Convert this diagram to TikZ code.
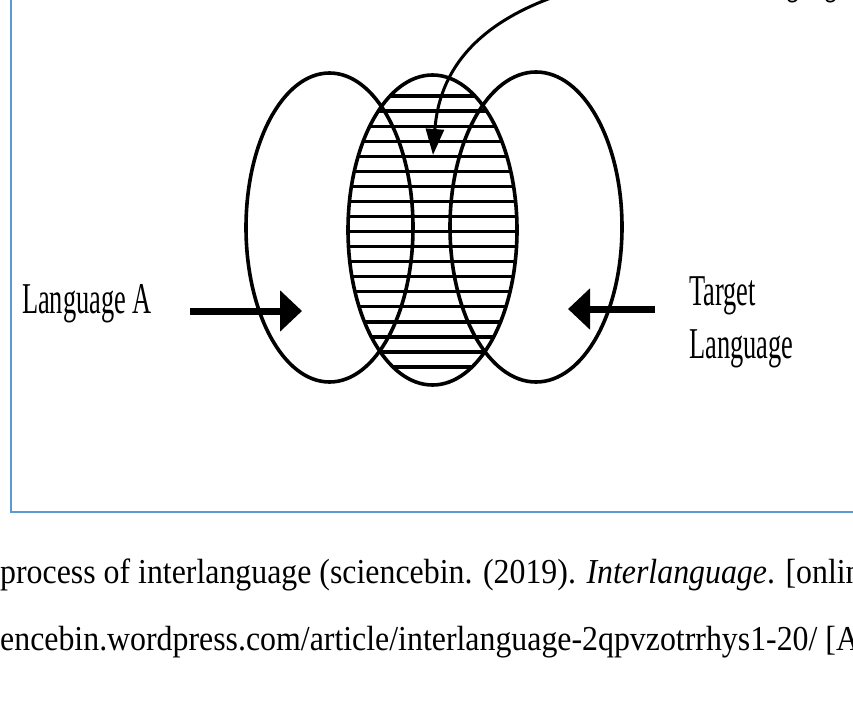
\documentclass[tikz,border=0pt]{standalone}
\usepackage{fontspec}
\setmainfont{Liberation Serif}
\usepackage{xcolor}
\usepackage{tikz}
\usetikzlibrary{arrows.meta}

\definecolor{frameblue}{RGB}{91,155,213}
\newcommand{\lbltext}[1]{\scalebox{0.6}[1]{#1}}
\newcommand{\captext}[1]{\scalebox{0.91}[1]{#1}}

\begin{document}
\begin{tikzpicture}[x=1pt, y=-1pt,
      ring/.style={line width=3.6pt},
      hatch/.style={line width=3.2pt},
      pointer/.style={line width=7pt, -{Triangle[length=22pt, width=40pt]}},
      thinpointer/.style={line width=3pt, -{Triangle[length=26pt, width=18pt]}},
      lbl/.style={font=\fontsize{44}{53}\selectfont, inner sep=0pt},
      capline/.style={font=\fontsize{35}{40}\selectfont, inner sep=0pt, anchor=base west}]
    \useasboundingbox (0,0) rectangle (853,706);
    \clip (0,0) rectangle (853,706);
    \draw[frameblue, line width=2.6pt] (11,-5) -- (11,512) -- (870,512);
    % hatched middle set
    \begin{scope}
      \clip (432.5,230) ellipse [x radius=84.5, y radius=155];
      \foreach \y in {96,111.06,...,368}
        \draw[hatch] (340,\y) -- (525,\y);
    \end{scope}
    \draw[ring] (329.5,227.5) ellipse [x radius=83.5, y radius=154.5];
    \draw[ring] (432.5,230) ellipse [x radius=84.5, y radius=155];
    \draw[ring] (536,227) ellipse [x radius=86, y radius=155];
    \node[lbl, anchor=base east] (langA) at (152,313) {\lbltext{Language A}};
    \node[lbl, anchor=base west] (target) at (689,305)
      {\lbltext{\begin{tabular}[t]{@{}l@{}}Target\\Language\end{tabular}}};
    \node[lbl, anchor=base west] (interlang) at (704,-6) {\lbltext{Interlanguage}};
    \coordinate (fromA) at (190,311);
    \coordinate (inA) at (302,311);
    \coordinate (fromT) at (655,309);
    \coordinate (inT) at (568,309);
    \coordinate (fromI) at (575,-10);
    \coordinate (inI) at (433,155);
    \draw[pointer] (fromA) -- (inA);
    \draw[pointer] (fromT) -- (inT);
    \draw[thinpointer] (fromI) .. controls (490,15) and (440,60) .. (inI);
    % caption
    \node[capline] (capone) at (0,583)
      {\captext{process of interlanguage (sciencebin. (2019). \textit{Interlanguage}. [onlin}};
    \node[capline] (captwo) at (0,650)
      {\captext{encebin.wordpress.com/article/interlanguage-2qpvzotrrhys1-20/ [A}};
  \end{tikzpicture}
\end{document}
